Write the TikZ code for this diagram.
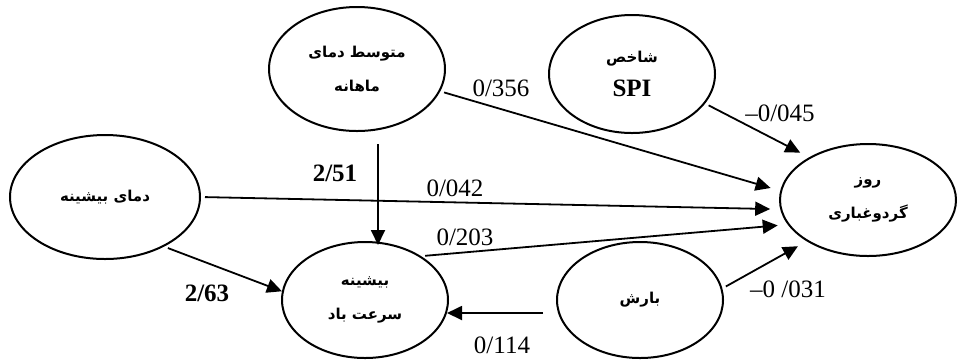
\documentclass[tikz,border=0pt]{standalone}
\usepackage{fontspec}
\setmainfont{Liberation Serif}
\newfontfamily\farsifont[Script=Arabic]{DejaVu Sans}
\TeXXeTstate=1
\usetikzlibrary{shapes.geometric,arrows.meta,calc}
\tikzset{
    factor/.style ={
        shape=ellipse,
        draw=black,
        line width=1pt,
        inner sep=0pt,
        align=center,
        font=\farsifont\bfseries\fontsize{7.5}{17}\selectfont
    },
    effect/.style ={
        -{Triangle[length=7.5pt,width=7pt]},
        line width=0.9pt,
        shorten <=2pt
    },
    toroz/.style ={
        effect,
        shorten >=5pt
    },
    coef/.style ={
        font=\fontsize{12.5}{14}\selectfont
    },
    boldcoef/.style ={
        font=\fontsize{12.5}{14}\selectfont\bfseries
    }
}

\begin{document}
\begin{tikzpicture}[x=0.5pt,y=-0.5pt]
    \useasboundingbox (0,0) rectangle (958,361);
    \node[factor, minimum width=88pt, minimum height=62pt] (mot) at(357,69)
        {\beginR متوسط دمای\endR\\ \beginR ماهانه\endR};
    \node[factor, minimum width=83pt, minimum height=59pt] (spi) at(632,74)
        {\beginR شاخص\endR\\ {\normalfont\bfseries\fontsize{12.5}{14}\selectfont SPI}};
    \node[factor, minimum width=95pt, minimum height=62pt] (damay) at(105,197)
        {\beginR دمای بیشینه\endR};
    \node[factor, minimum width=83pt, minimum height=58pt] (bisine) at(365,300)
        {\beginR بیشینه\endR\\ \beginR سرعت باد\endR};
    \node[factor, minimum width=83pt, minimum height=58pt] (barsh) at(640,300)
        {\beginR بارش\endR};
    \node[factor, minimum width=88pt, minimum height=56pt] (roz) at(868,200)
        {\beginR روز\endR\\ \beginR گردوغباری\endR};
    % arrows into roz
    \draw[toroz] (mot.-15) -- (roz.174);
    \draw[toroz] (spi.-22) -- (roz.144);
    \draw[toroz] (damay.east) -- (roz.186);
    \draw[toroz] (bisine.38) -- (roz.197);
    \draw[toroz] (barsh.8) -- (roz.214);
    % arrows into bisine
    \draw[effect] ($(mot.south)+(21,8)$) -- ($(bisine.north)+(13,4)$);
    \draw[effect] (damay.-40) -- (bisine.174);
    \draw[effect] ($(barsh.west)+(-9,13)$) -- ($(bisine.east)+(-2,13)$);
    % coefficients
    \node[coef] (w356) at(501,88) {0/356};
    \node[coef] (w045) at(780,113) {--0/045};
    \node[coef] (w042) at(455,188) {0/042};
    \node[boldcoef] (w251) at(335,173) {2/51};
    \node[coef] (w203) at(465,237) {0/203};
    \node[boldcoef] (w263) at(207,293) {2/63};
    \node[coef] (w114) at(502,345) {0/114};
    \node[coef] (w031) at(788,289) {--0 /031};
\end{tikzpicture}
\end{document}
